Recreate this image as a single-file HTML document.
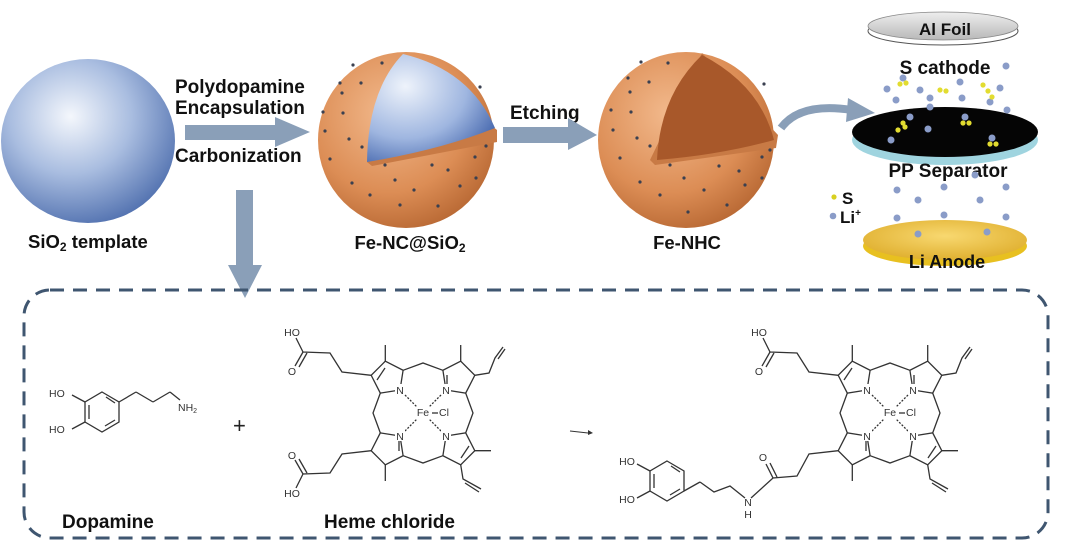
<!DOCTYPE html>
<html><head><meta charset="utf-8"><style>
html,body{margin:0;padding:0;background:#fff;}
svg{display:block;font-family:"Liberation Sans",Arial,sans-serif;}
.b{font-weight:bold;fill:#111;}
.m{fill:none;stroke:#333;stroke-width:1.3;}
.a{font-size:10.5px;fill:#333;}
</style></head><body>
<svg width="1080" height="545" viewBox="0 0 1080 545" xmlns="http://www.w3.org/2000/svg">
<defs>
<radialGradient id="sio2" cx="0.4" cy="0.35" r="0.7">
<stop offset="0" stop-color="#f4f7fc"/><stop offset="0.5" stop-color="#a9bde0"/><stop offset="1" stop-color="#4f6fae"/></radialGradient>
<radialGradient id="org" cx="0.4" cy="0.35" r="0.75">
<stop offset="0" stop-color="#f2b98c"/><stop offset="0.6" stop-color="#dc8d55"/><stop offset="1" stop-color="#b0602c"/></radialGradient>
<radialGradient id="blu2" cx="0.3" cy="0.3" r="0.8">
<stop offset="0" stop-color="#eef3fb"/><stop offset="0.6" stop-color="#9fb6e0"/><stop offset="1" stop-color="#4a6bb0"/></radialGradient>
<linearGradient id="gr" x1="0" y1="0" x2="0" y2="1"><stop offset="0" stop-color="#eee"/><stop offset="1" stop-color="#b8b8b8"/></linearGradient>
<radialGradient id="li" cx="0.5" cy="0.4" r="0.6"><stop offset="0" stop-color="#f8d870"/><stop offset="1" stop-color="#e0b030"/></radialGradient>
</defs>

<ellipse cx="88" cy="141" rx="87" ry="82" fill="url(#sio2)"/>
<text x="28" y="248" class="b" font-size="18.5">SiO<tspan font-size="12" dy="3">2</tspan><tspan dy="-3"> template</tspan></text>

<text x="175" y="93" class="b" font-size="19">Polydopamine</text>
<text x="175" y="114" class="b" font-size="19">Encapsulation</text>
<text x="175" y="162" class="b" font-size="19">Carbonization</text>
<polygon points="185,125 275,125 275,117 310,132 275,147 275,140 185,140" fill="#8a9fb8"/>
<polygon points="236,190 253,190 253,265 262,265 245,298 228,265 236,265" fill="#8a9fb8"/>
<text x="510" y="119" class="b" font-size="19">Etching</text>
<polygon points="503,127 568,127 568,118 597,135 568,150 568,143 503,143" fill="#8a9fb8"/>

<circle cx="406" cy="140" r="88" fill="url(#org)"/>
<path d="M403,54 L497,130 L497,142 L372,166 L367,162 Z" fill="#c87a45"/>
<path d="M367,162 Q368,90 403,54 Q470,70 495,128 Q440,150 367,162 Z" fill="url(#blu2)"/>
<text x="410" y="249" class="b" font-size="18.5" text-anchor="middle">Fe-NC@SiO<tspan font-size="12" dy="3">2</tspan></text>

<circle cx="686" cy="140" r="88" fill="url(#org)"/>
<path d="M702,53 L778,135 L776,148 L655,165 L650,160 Z" fill="#c87a45"/>
<path d="M657,160 Q660,95 702,55 Q760,85 774,140 Q720,155 657,160 Z" fill="#a8582a"/>
<text x="687" y="249" class="b" font-size="18.5" text-anchor="middle">Fe-NHC</text>

<g fill="#3a4050">
<circle cx="353" cy="65" r="1.6"/><circle cx="382" cy="63" r="1.6"/><circle cx="340" cy="83" r="1.6"/><circle cx="361" cy="83" r="1.6"/><circle cx="342" cy="93" r="1.6"/><circle cx="323" cy="112" r="1.6"/><circle cx="343" cy="113" r="1.6"/><circle cx="325" cy="131" r="1.6"/><circle cx="349" cy="139" r="1.6"/><circle cx="330" cy="159" r="1.6"/><circle cx="362" cy="147" r="1.6"/><circle cx="352" cy="183" r="1.6"/><circle cx="385" cy="165" r="1.6"/><circle cx="432" cy="165" r="1.6"/><circle cx="395" cy="180" r="1.6"/><circle cx="370" cy="195" r="1.6"/><circle cx="414" cy="190" r="1.6"/><circle cx="448" cy="170" r="1.6"/><circle cx="460" cy="186" r="1.6"/><circle cx="400" cy="205" r="1.6"/><circle cx="438" cy="206" r="1.6"/><circle cx="475" cy="157" r="1.6"/><circle cx="480" cy="87" r="1.6"/><circle cx="476" cy="178" r="1.6"/><circle cx="486" cy="146" r="1.6"/>
<circle cx="641" cy="62" r="1.6"/><circle cx="668" cy="63" r="1.6"/><circle cx="628" cy="78" r="1.6"/><circle cx="649" cy="82" r="1.6"/><circle cx="630" cy="92" r="1.6"/><circle cx="611" cy="110" r="1.6"/><circle cx="631" cy="112" r="1.6"/><circle cx="613" cy="130" r="1.6"/><circle cx="637" cy="138" r="1.6"/><circle cx="620" cy="158" r="1.6"/><circle cx="650" cy="146" r="1.6"/><circle cx="640" cy="182" r="1.6"/><circle cx="670" cy="165" r="1.6"/><circle cx="719" cy="166" r="1.6"/><circle cx="684" cy="178" r="1.6"/><circle cx="660" cy="195" r="1.6"/><circle cx="704" cy="190" r="1.6"/><circle cx="739" cy="171" r="1.6"/><circle cx="745" cy="185" r="1.6"/><circle cx="688" cy="212" r="1.6"/><circle cx="727" cy="205" r="1.6"/><circle cx="762" cy="157" r="1.6"/><circle cx="764" cy="84" r="1.6"/><circle cx="762" cy="178" r="1.6"/><circle cx="770" cy="150" r="1.6"/>
</g>

<path d="M781,128 Q800,102 852,110" fill="none" stroke="#8a9fb8" stroke-width="8"/>
<polygon points="848,98 875,113 846,122" fill="#8a9fb8"/>

<ellipse cx="943" cy="31" rx="75" ry="14" fill="#fff" stroke="#555" stroke-width="1"/>
<ellipse cx="943" cy="26" rx="75" ry="14" fill="url(#gr)" stroke="#888" stroke-width="0.8"/>
<text x="945" y="35" class="b" font-size="17" text-anchor="middle" fill="#222">Al Foil</text>
<text x="945" y="74" class="b" font-size="19" text-anchor="middle">S cathode</text>
<ellipse cx="945" cy="140" rx="93" ry="25" fill="#9fd4df"/>
<ellipse cx="945" cy="132" rx="93" ry="25" fill="#050505"/>
<text x="948" y="177" class="b" font-size="19" text-anchor="middle">PP Separator</text>
<ellipse cx="945" cy="246" rx="82" ry="20" fill="#e8c020"/>
<ellipse cx="945" cy="240" rx="82" ry="20" fill="url(#li)"/>
<text x="947" y="268" class="b" font-size="18" text-anchor="middle">Li Anode</text>
<circle cx="834" cy="197" r="2.6" fill="#d8d020"/>
<text x="842" y="204" class="b" font-size="17">S</text>
<circle cx="833" cy="216" r="3.3" fill="#8a9cc8"/>
<text x="840" y="223" class="b" font-size="17">Li<tspan font-size="10" dy="-7">+</tspan></text>
<g fill="#8a9cc8">
<circle cx="1006" cy="66" r="3.5"/><circle cx="903" cy="78" r="3.5"/><circle cx="887" cy="89" r="3.5"/><circle cx="920" cy="90" r="3.5"/><circle cx="960" cy="82" r="3.5"/><circle cx="1000" cy="88" r="3.5"/><circle cx="896" cy="100" r="3.5"/><circle cx="930" cy="98" r="3.5"/><circle cx="962" cy="98" r="3.5"/><circle cx="990" cy="102" r="3.5"/><circle cx="930" cy="107" r="3.5"/><circle cx="1007" cy="110" r="3.5"/><circle cx="910" cy="117" r="3.5"/><circle cx="928" cy="129" r="3.5"/><circle cx="965" cy="117" r="3.5"/><circle cx="992" cy="138" r="3.5"/><circle cx="891" cy="140" r="3.5"/>
<circle cx="897" cy="190" r="3.5"/><circle cx="944" cy="187" r="3.5"/><circle cx="1006" cy="187" r="3.5"/><circle cx="918" cy="200" r="3.5"/><circle cx="980" cy="200" r="3.5"/><circle cx="897" cy="218" r="3.5"/><circle cx="944" cy="215" r="3.5"/><circle cx="1006" cy="217" r="3.5"/><circle cx="918" cy="234" r="3.5"/><circle cx="987" cy="232" r="3.5"/><circle cx="975" cy="175" r="3.5"/>
</g>
<g fill="#e2dc30">
<circle cx="900" cy="84" r="2.6"/><circle cx="906" cy="83" r="2.6"/><circle cx="940" cy="90" r="2.6"/><circle cx="946" cy="91" r="2.6"/><circle cx="983" cy="85" r="2.6"/><circle cx="988" cy="91" r="2.6"/><circle cx="992" cy="97" r="2.6"/>
<circle cx="903" cy="123" r="2.6"/><circle cx="898" cy="130" r="2.6"/><circle cx="905" cy="127" r="2.6"/><circle cx="963" cy="123" r="2.6"/><circle cx="969" cy="123" r="2.6"/><circle cx="990" cy="144" r="2.6"/><circle cx="996" cy="144" r="2.6"/>
</g>

<rect x="24" y="290" width="1024" height="248" rx="26" fill="none" stroke="#3f5670" stroke-width="3" stroke-dasharray="14,9"/>

<g class="m">
<polygon points="102,392 119,402 119,422 102,432 85,422 85,402"/>
<line x1="106" y1="397" x2="115" y2="403"/><line x1="115" y1="420" x2="105" y2="426"/><line x1="89" y1="405" x2="89" y2="419"/>
<line x1="85" y1="402" x2="72" y2="395"/><line x1="85" y1="422" x2="72" y2="429"/>
<line x1="119" y1="402" x2="136" y2="392"/><line x1="136" y1="392" x2="153" y2="402"/><line x1="153" y1="402" x2="170" y2="392"/><line x1="170" y1="392" x2="180" y2="400"/>
</g>
<text x="49" y="397" class="a">HO</text><text x="49" y="433" class="a">HO</text>
<text x="178" y="411" class="a">NH<tspan font-size="7" dy="2">2</tspan></text>
<text x="62" y="528" class="b" font-size="19">Dopamine</text>
<text x="233" y="433" font-size="22" fill="#222">+</text>
<text x="324" y="528" class="b" font-size="19">Heme chloride</text>
<line x1="570" y1="431" x2="588" y2="433" stroke="#333" stroke-width="1"/>
<polygon points="588,430 593,433 588,435" fill="#333"/>

<g transform="translate(423,413)">
<g class="m">
<polygon points="-23,-23 -42.7,-19.9 -51.8,-37.7 -37.7,-51.8 -19.9,-42.7"/>
<polygon points="23,-23 42.7,-19.9 51.8,-37.7 37.7,-51.8 19.9,-42.7"/>
<polygon points="-23,23 -42.7,19.9 -51.8,37.7 -37.7,51.8 -19.9,42.7"/>
<polygon points="23,23 42.7,19.9 51.8,37.7 37.7,51.8 19.9,42.7"/>
<line x1="-46" y1="-33" x2="-38" y2="-45"/><line x1="46" y1="33" x2="38" y2="45"/><line x1="24" y1="-27" x2="24" y2="-38"/><line x1="-24" y1="27" x2="-24" y2="38"/>
<polyline points="-19.9,-42.7 0,-50 19.9,-42.7"/><polyline points="-19.9,42.7 0,50 19.9,42.7"/>
<polyline points="-42.7,-19.9 -50,0 -42.7,19.9"/><polyline points="42.7,-19.9 50,0 42.7,19.9"/>
<line x1="-37.7" y1="-51.8" x2="-37.7" y2="-68"/><line x1="37.7" y1="-51.8" x2="37.7" y2="-68"/>
<line x1="-37.7" y1="51.8" x2="-37.7" y2="68"/><line x1="51.8" y1="37.7" x2="68" y2="37.7"/>
<polyline points="51.8,-37.7 66,-40 72,-55 80,-66"/><line x1="75" y1="-54" x2="82" y2="-64"/>
<polyline points="37.7,51.8 40,66 58,76"/><line x1="42" y1="70" x2="56" y2="79"/>
<polyline points="-51.8,-37.7 -81,-41 -93,-60 -120,-61 -127,-75"/><line x1="-120" y1="-61" x2="-128" y2="-47"/><line x1="-116" y1="-60" x2="-124" y2="-46"/>
<polyline points="-51.8,37.7 -81,41 -93,60 -120,61 -127,75"/><line x1="-120" y1="61" x2="-128" y2="47"/><line x1="-116" y1="60" x2="-124" y2="46"/>
<line x1="-18" y1="-18" x2="-6" y2="-6" stroke-dasharray="2,1.5"/><line x1="18" y1="-18" x2="6" y2="-6" stroke-dasharray="2,1.5"/>
<line x1="-18" y1="18" x2="-6" y2="6" stroke-dasharray="2,1.5"/><line x1="18" y1="18" x2="6" y2="6" stroke-dasharray="2,1.5"/>
<line x1="9" y1="0" x2="15" y2="0"/>
</g>
<g class="a" text-anchor="middle">
<rect x="-28" y="-29" width="10" height="11" fill="#fff"/><text x="-23" y="-19">N</text>
<rect x="18" y="-29" width="10" height="11" fill="#fff"/><text x="23" y="-19">N</text>
<rect x="-28" y="17" width="10" height="11" fill="#fff"/><text x="-23" y="27">N</text>
<rect x="18" y="17" width="10" height="11" fill="#fff"/><text x="23" y="27">N</text>
<text x="0" y="3">Fe</text><text x="21" y="3">Cl</text>
<text x="-131" y="-77">HO</text><text x="-131" y="-38">O</text>
<text x="-131" y="46">O</text><text x="-131" y="84">HO</text>
</g>
</g>

<g transform="translate(890,413)">
<g class="m">
<polygon points="-23,-23 -42.7,-19.9 -51.8,-37.7 -37.7,-51.8 -19.9,-42.7"/>
<polygon points="23,-23 42.7,-19.9 51.8,-37.7 37.7,-51.8 19.9,-42.7"/>
<polygon points="-23,23 -42.7,19.9 -51.8,37.7 -37.7,51.8 -19.9,42.7"/>
<polygon points="23,23 42.7,19.9 51.8,37.7 37.7,51.8 19.9,42.7"/>
<line x1="-46" y1="-33" x2="-38" y2="-45"/><line x1="46" y1="33" x2="38" y2="45"/><line x1="24" y1="-27" x2="24" y2="-38"/><line x1="-24" y1="27" x2="-24" y2="38"/>
<polyline points="-19.9,-42.7 0,-50 19.9,-42.7"/><polyline points="-19.9,42.7 0,50 19.9,42.7"/>
<polyline points="-42.7,-19.9 -50,0 -42.7,19.9"/><polyline points="42.7,-19.9 50,0 42.7,19.9"/>
<line x1="-37.7" y1="-51.8" x2="-37.7" y2="-68"/><line x1="37.7" y1="-51.8" x2="37.7" y2="-68"/>
<line x1="-37.7" y1="51.8" x2="-37.7" y2="68"/><line x1="51.8" y1="37.7" x2="68" y2="37.7"/>
<polyline points="51.8,-37.7 66,-40 72,-55 80,-66"/><line x1="75" y1="-54" x2="82" y2="-64"/>
<polyline points="37.7,51.8 40,66 58,76"/><line x1="42" y1="70" x2="56" y2="79"/>
<polyline points="-51.8,-37.7 -81,-41 -93,-60 -120,-61 -127,-75"/><line x1="-120" y1="-61" x2="-128" y2="-47"/><line x1="-116" y1="-60" x2="-124" y2="-46"/>
<polyline points="-51.8,37.7 -81,41 -93,63 -117,65 -139,85"/><line x1="-117" y1="65" x2="-124" y2="51"/><line x1="-113" y1="64" x2="-120" y2="50"/>
<polyline points="-145,85 -160,73 -176,79 -190,69"/>
<line x1="-18" y1="-18" x2="-6" y2="-6" stroke-dasharray="2,1.5"/><line x1="18" y1="-18" x2="6" y2="-6" stroke-dasharray="2,1.5"/>
<line x1="-18" y1="18" x2="-6" y2="6" stroke-dasharray="2,1.5"/><line x1="18" y1="18" x2="6" y2="6" stroke-dasharray="2,1.5"/>
<line x1="9" y1="0" x2="15" y2="0"/>
<polygon points="-223,48 -206,58 -206,78 -223,88 -240,78 -240,58"/>
<line x1="-219" y1="53" x2="-210" y2="59"/><line x1="-210" y1="76" x2="-220" y2="82"/><line x1="-236" y1="61" x2="-236" y2="75"/>
<line x1="-240" y1="58" x2="-253" y2="51"/><line x1="-240" y1="78" x2="-253" y2="85"/>
<line x1="-206" y1="78" x2="-190" y2="69"/>
</g>
<g class="a" text-anchor="middle">
<rect x="-28" y="-29" width="10" height="11" fill="#fff"/><text x="-23" y="-19">N</text>
<rect x="18" y="-29" width="10" height="11" fill="#fff"/><text x="23" y="-19">N</text>
<rect x="-28" y="17" width="10" height="11" fill="#fff"/><text x="-23" y="27">N</text>
<rect x="18" y="17" width="10" height="11" fill="#fff"/><text x="23" y="27">N</text>
<text x="0" y="3">Fe</text><text x="21" y="3">Cl</text>
<text x="-131" y="-77">HO</text><text x="-131" y="-38">O</text>
<text x="-127" y="48">O</text>
<text x="-142" y="93">N</text><text x="-142" y="105">H</text>
<text x="-263" y="52">HO</text><text x="-263" y="90">HO</text>
</g>
</g>
</svg>
</body></html>
